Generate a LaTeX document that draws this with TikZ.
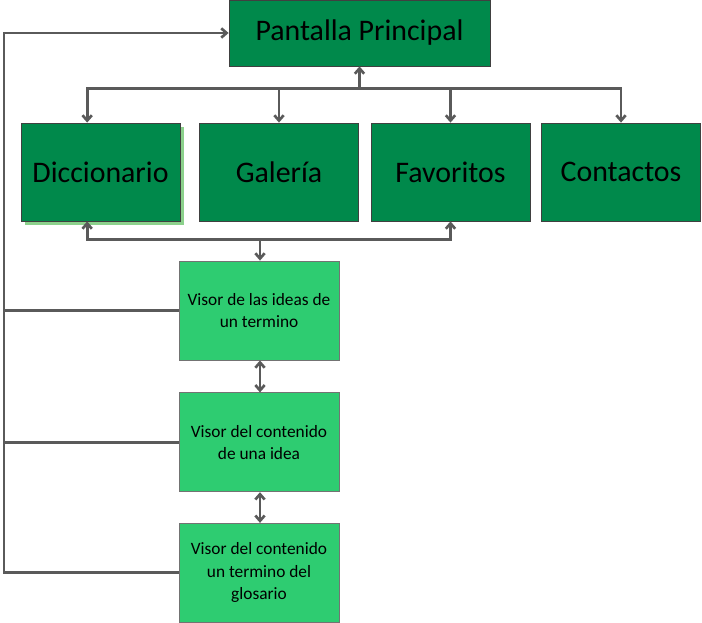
\documentclass[tikz,border=0pt]{standalone}
\usepackage{fontspec}
\setmainfont{Carlito}
\usetikzlibrary{positioning, arrows.meta, shadows, calc}
\definecolor{darkgreen}{HTML}{00894B}
\definecolor{lightgreen}{HTML}{2ECC71}
\definecolor{linegray}{HTML}{5A5A5A}

\begin{document}
\begin{tikzpicture}[
  x=0.75pt, y=-0.75pt,
  screen/.style={
    rectangle, draw=black!75, line width=0.6pt, fill=darkgreen, text=black,
    minimum width=119.25pt, minimum height=73.5pt, align=center,
    font=\fontsize{22.4}{26}\selectfont
  },
  viewer/.style={
    rectangle, draw=black!55, line width=0.6pt, fill=lightgreen, text=black,
    minimum width=120pt, minimum height=74.25pt, align=center,
    font=\fontsize{13}{16.8}\selectfont
  },
  link/.style={draw=linegray, line width=2pt},
  >={Straight Barb[length=4pt, width=7pt]}
]
\useasboundingbox (0,0) rectangle (702,623);

% main screen and its sections
\node[screen, minimum width=195.75pt, minimum height=49.5pt] (pp) at (359.5,33) {Pantalla Principal};
\node[screen, drop shadow={shadow xshift=3pt, shadow yshift=-3pt, fill=green!60!black, opacity=0.45}] (dicc) at (100.5,172) {Diccionario};
\node[screen] (gal) at (279,172) {Galería};
\node[screen] (fav) at (450.5,172) {Favoritos};
\node[screen] (cont) at (621,172) {Contactos};

% viewers
\node[viewer] (v1) at (259,310.5) {Visor de las ideas de\\un termino};
\node[viewer, below=24pt of v1] (v2) {Visor del contenido\\de una idea};
\node[viewer, below=23pt of v2] (v3) {Visor del contenido\\un termino del\\glosario};

% top bus
\draw[link, <-] (pp.south) -- ++(0,22) coordinate (hub);
\draw[link, ->] (hub) -| ([xshift=-10pt]dicc.north);
\draw[link, ->] (hub) -| (gal.north);
\draw[link, ->] (hub) -| (fav.north);
\draw[link, ->] (hub) -| (cont.north);

% lower bus
\coordinate (low) at ($(v1.north)+(1,-21)$);
\draw[link, ->] (low) -- ([xshift=0.75pt]v1.north);
\draw[link, ->] (low) -| ([xshift=-10pt]dicc.south);
\draw[link, ->] (low) -| (fav.south);

% between viewers
\draw[link, <->] ([xshift=0.75pt]v1.south) -- ([xshift=0.75pt]v2.north);
\draw[link, <->] ([xshift=0.75pt]v2.south) -- ([xshift=0.75pt]v3.north);

% back to main screen
\coordinate (rail) at (4,33);
\draw[link, ->] (v3.west) -| (rail) -- (pp.west);
\draw[link] (v1.west) -- (v1.west -| rail);
\draw[link] (v2.west) -- (v2.west -| rail);
\end{tikzpicture}
\end{document}
